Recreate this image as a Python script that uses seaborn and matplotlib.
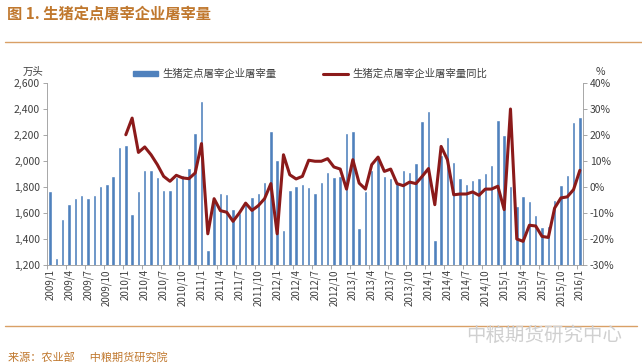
import numpy as np
import pandas as pd
import seaborn as sns
import matplotlib.pyplot as plt
from matplotlib.patches import Patch
from matplotlib.lines import Line2D
from matplotlib.ticker import FuncFormatter

# 月份 2009/1 - 2016/1
months = [f"{y}/{m}" for y in range(2009, 2016) for m in range(1, 13)] + ["2016/1"]

# 屠宰量 (万头)
vol_2009 = [1767, 1254, 1556, 1669, 1713, 1736, 1713, 1736, 1810, 1826, 1882, 2105]
vol_2010 = [2123, 1592, 1769, 1928, 1933, 1880, 1774, 1774, 1874, 1890, 1944, 2215]
vol_2011 = [2464, 1313, 1700, 1754, 1749, 1631, 1600, 1677, 1723, 1754, 1842, 2233]
vol_2012 = [2010, 1472, 1780, 1810, 1823, 1800, 1754, 1841, 1913, 1877, 1882, 2215]
vol_2013 = [2231, 1487, 1772, 1933, 2030, 1882, 1869, 1831, 1933, 1915, 1985, 2305]
vol_2014 = [2382, 1390, 2049, 2185, 1990, 1867, 1823, 1856, 1869, 1908, 1967, 2313]
vol_2015 = [2197, 1810, 1656, 1733, 1695, 1587, 1490, 1497, 1703, 1815, 1895, 2297]
vol_2016 = [2336]

# 同比 (%)
yoy_2009 = [np.nan] * 12
yoy_2010 = [20.1, 26.5, 13.3, 15.4, 12.4, 8.6, 4.1, 2.2, 4.5, 3.5, 3.2, 5.4]
yoy_2011 = [16.7, -18.0, -4.5, -9.1, -9.7, -13.2, -10.0, -6.2, -9.0, -7.2, -4.5, 1.3]
yoy_2012 = [-18.0, 12.4, 4.7, 3.1, 4.1, 10.3, 9.9, 9.9, 10.9, 7.7, 6.9, -0.8]
yoy_2013 = [10.5, 1.5, -0.8, 8.6, 11.5, 6.0, 6.9, 1.3, 0.5, 1.9, 1.3, 4.1]
yoy_2014 = [7.1, -6.8, 15.6, 10.5, -3.0, -2.7, -2.7, -1.9, -3.2, -0.8, -0.8, 0.3]
yoy_2015 = [-8.7, 30.0, -20.0, -20.9, -14.7, -15.0, -19.0, -19.4, -8.1, -4.2, -3.8, -1.0]
yoy_2016 = [6.4]

volume = vol_2009 + vol_2010 + vol_2011 + vol_2012 + vol_2013 + vol_2014 + vol_2015 + vol_2016
yoy = yoy_2009 + yoy_2010 + yoy_2011 + yoy_2012 + yoy_2013 + yoy_2014 + yoy_2015 + yoy_2016

df = pd.DataFrame({'month': months, 'vol': volume, 'yoy': yoy})
df['pos'] = np.arange(len(df))
df['yoy_frac'] = df['yoy'] / 100

bar_color = '#4F81BD'
line_color = '#8B1A1A'
title_color = '#C0782E'
text_color = '#404040'

sns.set_theme(style='white')
plt.rcParams['font.family'] = ['Noto Sans CJK SC', 'DejaVu Sans']

fig = plt.figure(figsize=(6.42, 3.64), dpi=100)
ax = fig.add_axes([47 / 642, 1 - 265 / 364, (583 - 47) / 642, (265 - 83) / 364])

sns.barplot(data=df, x='month', y='vol', order=months, color=bar_color,
            saturation=1, width=0.55, ax=ax)
ax.set_xlim(-0.5, len(months) - 0.5)
ax.set_ylim(1200, 2600)
ax.set_yticks(range(1200, 2601, 200))
ax.yaxis.set_major_formatter(FuncFormatter(lambda v, p: f'{int(v):,}'))
ax.set_xticks(range(0, len(months), 3))
ax.set_xticklabels(months[::3], rotation=90, fontsize=7, color=text_color)
ax.set_xticks(np.arange(-0.5, len(months), 3), minor=True)
ax.tick_params(axis='x', which='major', length=0, pad=3)
ax.tick_params(axis='x', which='minor', length=3, width=0.6, color='#999999', bottom=True)
ax.tick_params(axis='y', length=3, width=0.6, color='#999999', labelsize=7.5,
               labelcolor=text_color, left=True, pad=2)
ax.set_xlabel('')
ax.set_ylabel('')
for s in ['top', 'right']:
    ax.spines[s].set_visible(False)
for s in ['left', 'bottom']:
    ax.spines[s].set_color('#999999')
    ax.spines[s].set_linewidth(0.6)

ax2 = ax.twinx()
sns.lineplot(data=df.iloc[12:], x='pos', y='yoy_frac', color=line_color,
             linewidth=2.2, ax=ax2)
ax2.set_ylim(-0.30, 0.40)
ax2.set_yticks(np.arange(-0.30, 0.401, 0.10))
ax2.yaxis.set_major_formatter(FuncFormatter(lambda v, p: f'{v:.0%}'))
ax2.tick_params(axis='y', length=3, width=0.6, color='#999999', labelsize=7.5,
                labelcolor=text_color, right=True, pad=2)
ax2.set_xlabel('')
ax2.set_ylabel('')
for s in ['top', 'left', 'bottom']:
    ax2.spines[s].set_visible(False)
ax2.spines['right'].set_color('#999999')
ax2.spines['right'].set_linewidth(0.6)
ax2.set_xlim(-0.5, len(months) - 0.5)

# 单位
fig.text(33 / 642, 1 - 72 / 364, '万头', fontsize=7.5, color=text_color, ha='center', va='center')
fig.text(600 / 642, 1 - 72 / 364, '%', fontsize=7.5, color=text_color, ha='center', va='center')

# 图例
handles = [Patch(color=bar_color), Line2D([0], [0], color=line_color, lw=2.2)]
fig.legend(handles, ['生猪定点屠宰企业屠宰量', '生猪定点屠宰企业屠宰量同比'],
           loc='center', bbox_to_anchor=(310 / 642, 1 - 74 / 364), ncol=2,
           frameon=False, fontsize=7.5, handlelength=2.4, handleheight=0.45,
           columnspacing=4.5, handletextpad=0.4, labelcolor=text_color)

# 标题和分隔线
fig.text(7 / 642, 1 - 15 / 364, '图 1. 生猪定点屠宰企业屠宰量', fontsize=11,
         fontweight='bold', color=title_color, va='center')
fig.add_artist(Line2D([5 / 642, 1], [1 - 42 / 364] * 2, color='#D9A066', lw=1))
fig.add_artist(Line2D([5 / 642, 637 / 642], [1 - 326 / 364] * 2, color='#D9A066', lw=1))

# 来源
fig.text(8 / 642, 1 - 357 / 364, '来源：农业部      中粮期货研究院', fontsize=8,
         color=title_color, va='center', style='italic')
fig.text(622 / 642, 1 - 335 / 364, '中粮期货研究中心', fontsize=14,
         color='#D0D0D0', ha='right', va='center')

fig.savefig('out.png', dpi=100)
